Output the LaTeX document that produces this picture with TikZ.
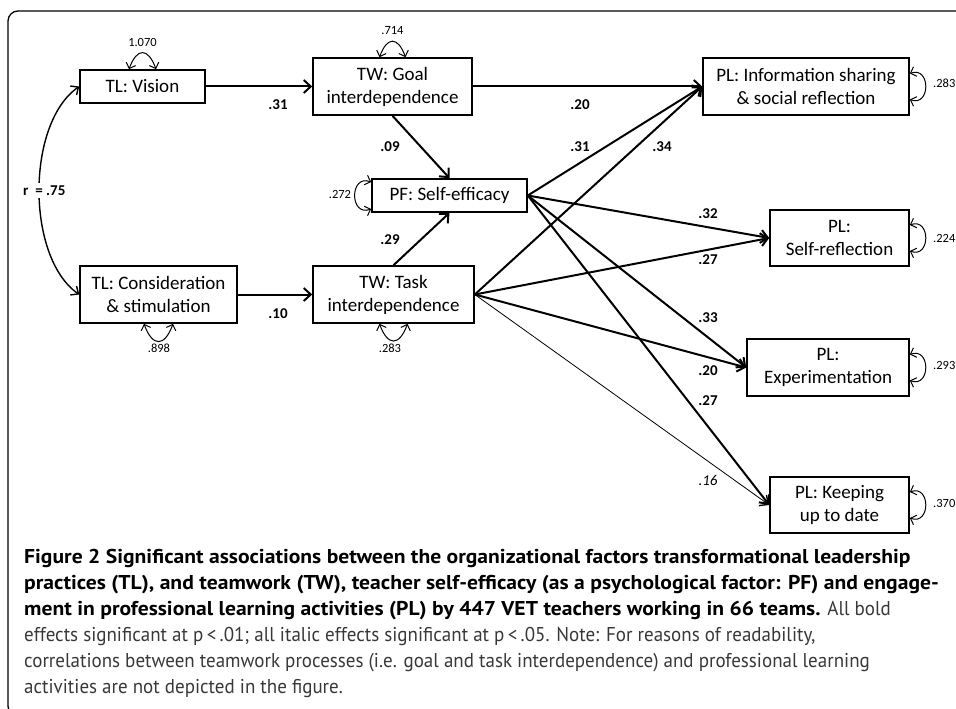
\documentclass[tikz,border=0pt]{standalone}
\usepackage{fontspec}
\setmainfont{Carlito}
\newfontfamily\capfont[FakeStretch=1.08]{PT Sans}
\newfontfamily\caplight[FakeStretch=0.95]{PT Sans}
\usetikzlibrary{arrows.meta,calc}

\begin{document}
\begin{tikzpicture}[x=1pt,y=1pt,
  plbox/.style={draw,line width=1.6pt,minimum width=#1,align=center,
    font=\fontsize{19}{23}\selectfont,inner sep=2pt},
  effarr/.style={line width=2pt,-{Straight Barb[length=7pt,width=13pt]}},
  effthin/.style={line width=0.8pt,-{Straight Barb[length=7pt,width=13pt,line width=1.4pt]}},
  varloop/.style={line width=1pt,looseness=2.2,
    {Straight Barb[length=5pt,width=10pt]}-{Straight Barb[length=5pt,width=10pt]}},
  efflab/.style={font=\fontsize{15}{18}\selectfont\bfseries},
  varlab/.style={font=\fontsize{12.5}{15}\selectfont},
  capline/.style={anchor=base west,inner sep=0pt,text=black!78,font=\caplight\fontsize{20}{26}\selectfont},
  capbold/.style={capline,text=black,font=\capfont\bfseries\fontsize{20}{26}\selectfont}
]
  \useasboundingbox (0,0) rectangle (956,-709);
  \draw[line width=1.3pt,rounded corners=10pt] (8,-11) rectangle (990,-716);

  % Boxes
  \node[plbox=125,minimum height=33] (vis) at (142.5,-86.5) {TL: Vision};
  \node[plbox=159,minimum height=57] (goal) at (392.5,-86.5) {TW: Goal\\interdependence};
  \node[plbox=155,minimum height=33] (pf) at (449.5,-195.5) {PF: Self-efficacy};
  \node[plbox=157,minimum height=57] (cons) at (158.5,-294.5) {TL: Consideration\\\& stimulation};
  \node[plbox=161,minimum height=57] (task) at (393.5,-294.5) {TW: Task\\interdependence};
  \node[plbox=206,minimum height=57] (info) at (806,-86.5) {PL: Information sharing\\\& social reflection};
  \node[plbox=139,minimum height=56] (selfr) at (839.5,-238) {PL:\\Self-reflection};
  \node[plbox=162,minimum height=57] (exper) at (828,-367.5) {PL:\\Experimentation};
  \node[plbox=139,minimum height=56] (keep) at (839.5,-505) {PL: Keeping\\up to date};

  % Correlation
  \draw[line width=1.4pt,{Straight Barb[length=6pt,width=11pt]}-{Straight Barb[length=6pt,width=11pt]}]
    (vis.west) to[out=215,in=145,looseness=0.8]
    node[fill=white,inner sep=3pt,xshift=5pt,font=\fontsize{15}{18}\selectfont\bfseries] (rlab) {r\ \ = .75}
    (cons.west);

  % Paths
  \draw[effarr] (vis.east) -- (goal.west);
  \draw[effarr] (goal.east) -- (info.west);
  \draw[effarr] (goal.south) -- (pf.north);
  \draw[effarr] (task.north) -- (pf.south);
  \draw[effarr] (cons.east) -- (task.west);
  \foreach \t in {info,selfr,exper,keep}
    \draw[effarr] (pf.east) -- (\t.west);
  \foreach \t in {info,selfr,exper}
    \draw[effarr] (task.east) -- (\t.west);
  \draw[effthin] (task.east) -- (keep.west);

  % Path labels
  \node[efflab] (b31) at (278,-105) {.31};
  \node[efflab] (b20) at (580,-105) {.20};
  \node[efflab] (b09) at (390,-147) {.09};
  \node[efflab] (b29) at (390,-240) {.29};
  \node[efflab] (b10) at (278,-314) {.10};
  \node[efflab] (c31) at (580,-147) {.31};
  \node[efflab] (c34) at (662,-147) {.34};
  \node[efflab] (c32) at (708,-214) {.32};
  \node[efflab] (c27) at (708,-260) {.27};
  \node[efflab] (c33) at (708,-318) {.33};
  \node[efflab] (c20) at (708,-371) {.20};
  \node[efflab] (d27) at (708,-401) {.27};
  \node[font=\fontsize{15}{18}\selectfont\itshape] (d16) at (708,-480) {.16};

  % Variances
  \draw[varloop] ($(vis.north)+(-13.5,0)$) to[out=70,in=110] ($(vis.north)+(13.5,0)$);
  \draw[varloop] ($(goal.north)+(-13,0)$) to[out=70,in=110] ($(goal.north)+(13,0)$);
  \draw[varloop] ($(cons.south)+(-14.5,0)$) to[out=-70,in=-110] ($(cons.south)+(14.5,0)$);
  \draw[varloop] ($(task.south)+(-14,0)$) to[out=-70,in=-110] ($(task.south)+(14,0)$);
  \draw[varloop] ($(pf.west)+(0,13.5)$) to[out=160,in=200] ($(pf.west)+(0,-13.5)$);
  \foreach \t in {info,selfr,exper,keep}
    \draw[varloop] ($(\t.east)+(0,13)$) to[out=20,in=-20] ($(\t.east)+(0,-13)$);
  \node[varlab] (v1) at (142.5,-42) {1.070};
  \node[varlab] (v2) at (392.5,-31) {.714};
  \node[varlab] (v3) at (159,-348) {.898};
  \node[varlab] (v4) at (390,-348) {.283};
  \node[varlab] (v5) at (340,-194) {.272};
  \node[varlab,anchor=west,inner sep=0pt] (v6) at (933,-83) {.283};
  \node[varlab,anchor=west,inner sep=0pt] (v7) at (933,-238) {.224};
  \node[varlab,anchor=west,inner sep=0pt] (v8) at (933,-365) {.293};
  \node[varlab,anchor=west,inner sep=0pt] (v9) at (933,-503) {.370};

  % Caption
  \node[capbold] (cap1) at (24,-563)
    {Figure 2 Significant associations between the organizational factors transformational leadership};
  \node[capbold] (cap2) at (24,-589)
    {practices (TL), and teamwork (TW), teacher self-efficacy (as a psychological factor: PF) and engage-};
  \node[capline] (cap3) at (24,-615)
    {{\color{black}\capfont\bfseries ment in professional learning activities (PL) by 447 VET teachers working in 66 teams.} All bold};
  \node[capline] (cap4) at (24,-641)
    {effects significant at p\,<\,.01; all italic effects significant at p\,<\,.05. Note: For reasons of readability,};
  \node[capline] (cap5) at (24,-667)
    {correlations between teamwork processes (i.e. goal and task interdependence) and professional learning};
  \node[capline] (cap6) at (24,-693)
    {activities are not depicted in the figure.};
\end{tikzpicture}
\end{document}
